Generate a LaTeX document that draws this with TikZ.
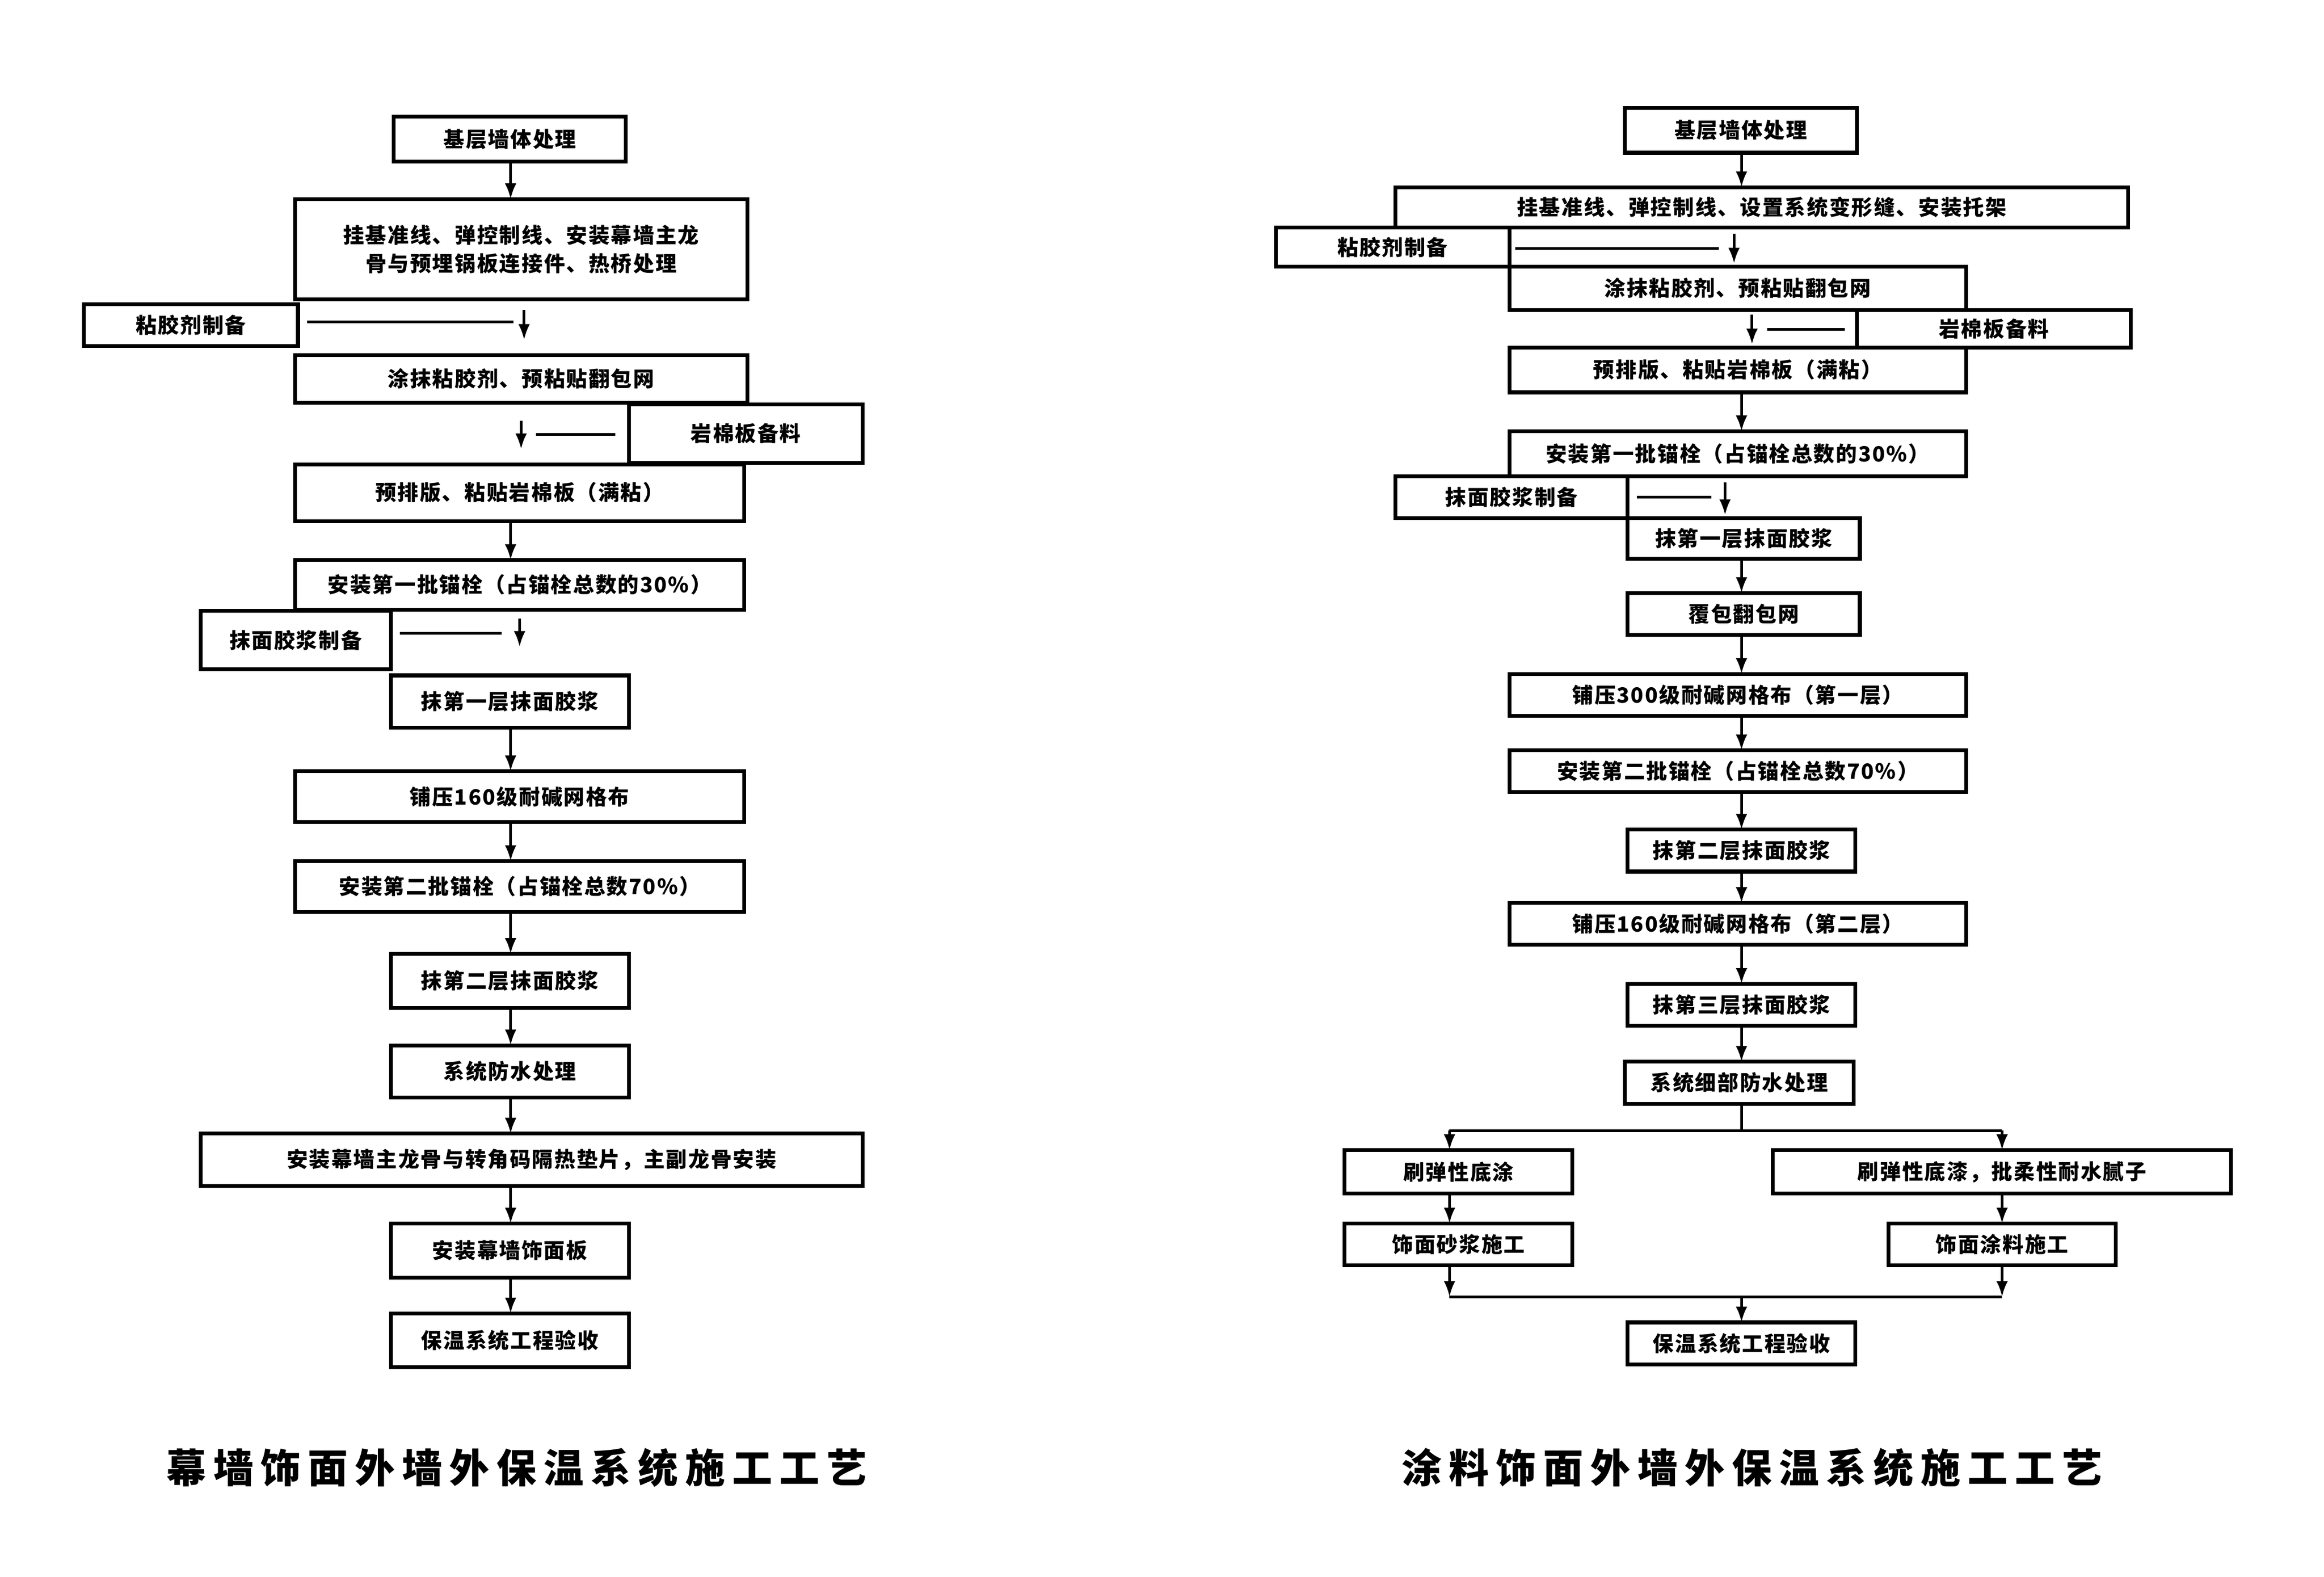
\documentclass[tikz,border=0pt]{standalone}
\usepackage{fontspec}
\setmainfont{Noto Sans CJK SC}
\usetikzlibrary{arrows.meta}
\newcommand\bx[6]{\node[box,minimum width={(#4-#2)*0.05cm},minimum height={(#5-#3)*0.05cm}] (#1) at ({(#2+#4)/2},{-(#3+#5)/2}) {#6};}
\tikzset{
 box/.style={draw,line width=3.6pt,inner sep=0pt,outer sep=0pt,align=center,font=\fontsize{20}{27}\selectfont\addfontfeatures{LetterSpace=6}\bfseries},
 arr/.style={line width=2.6pt,-{Latex[length=15pt,width=11pt]}},
 ln/.style={line width=2.6pt},
 ttl/.style={font=\fontsize{38}{44}\selectfont\addfontfeatures{LetterSpace=18}\bfseries}
}
\begin{document}
\begin{tikzpicture}[x=0.05cm,y=0.05cm]
\useasboundingbox (0,0) rectangle (1552,-1053);
\fill[white] (0,0) rectangle (1552,-1053);
% left chart
\coordinate (cL) at (341,0);
\bx{l1}{263}{78}{418}{108}{基层墙体处理}
\bx{l2}{197}{133}{499}{200}{挂基准线、弹控制线、安装幕墙主龙\\骨与预埋锅板连接件、热桥处理}
\bx{l3}{56}{203}{199}{231}{粘胶剂制备}
\bx{l4}{197}{237}{499}{269}{涂抹粘胶剂、预粘贴翻包网}
\bx{l5}{420}{270}{576}{309}{岩棉板备料}
\bx{l6}{197}{310}{497}{348}{预排版、粘贴岩棉板（满粘）}
\bx{l7}{197}{374}{497}{407}{安装第一批锚栓（占锚栓总数的30\%）}
\bx{l8}{134}{408}{261}{447}{抹面胶浆制备}
\bx{l9}{261}{451}{420}{486}{抹第一层抹面胶浆}
\bx{l10}{197}{515}{497}{549}{铺压160级耐碱网格布}
\bx{l11}{197}{575}{497}{609}{安装第二批锚栓（占锚栓总数70\%）}
\bx{l12}{261}{637}{420}{673}{抹第二层抹面胶浆}
\bx{l13}{261}{698}{420}{733}{系统防水处理}
\bx{l14}{134}{757}{576}{792}{安装幕墙主龙骨与转角码隔热垫片，主副龙骨安装}
\bx{l15}{261}{817}{420}{853}{安装幕墙饰面板}
\bx{l16}{261}{877}{420}{913}{保温系统工程验收}
\draw[arr] (l1.south -| cL) -- (l2.north -| cL);
\coordinate (a1) at (205,-215); \coordinate (a2) at (343,-215);
\draw[ln] (a1) -- (a2);
\coordinate (a3) at (350,-207); \coordinate (a4) at (350,-227);
\draw[arr] (a3) -- (a4);
\coordinate (b1) at (348,-281); \coordinate (b2) at (348,-300);
\draw[arr] (b1) -- (b2);
\coordinate (b3) at (358,-290); \coordinate (b4) at (411,-290);
\draw[ln] (b3) -- (b4);
\draw[arr] (l6.south -| cL) -- (l7.north -| cL);
\coordinate (c1) at (267,-423); \coordinate (c2) at (335,-423);
\draw[ln] (c1) -- (c2);
\coordinate (c3) at (347,-413); \coordinate (c4) at (347,-432);
\draw[arr] (c3) -- (c4);
\draw[arr] (l9.south -| cL) -- (l10.north -| cL);
\draw[arr] (l10.south -| cL) -- (l11.north -| cL);
\draw[arr] (l11.south -| cL) -- (l12.north -| cL);
\draw[arr] (l12.south -| cL) -- (l13.north -| cL);
\draw[arr] (l13.south -| cL) -- (l14.north -| cL);
\draw[arr] (l14.south -| cL) -- (l15.north -| cL);
\draw[arr] (l15.south -| cL) -- (l16.north -| cL);
\node[ttl] (tL) at (345,-980) {幕墙饰面外墙外保温系统施工工艺};
% right chart
\coordinate (cR) at (1163,0);
\bx{r1}{1085}{72}{1240}{102}{基层墙体处理}
\bx{r2}{932}{125}{1421}{152}{挂基准线、弹控制线、设置系统变形缝、安装托架}
\bx{r3}{852}{152}{1008}{178}{粘胶剂制备}
\bx{r4}{1008}{178}{1313}{207}{涂抹粘胶剂、预粘贴翻包网}
\bx{r5}{1240}{207}{1423}{232}{岩棉板备料}
\bx{r6}{1008}{232}{1313}{262}{预排版、粘贴岩棉板（满粘）}
\bx{r7}{1008}{288}{1313}{318}{安装第一批锚栓（占锚栓总数的30\%）}
\bx{r8}{932}{318}{1087}{346}{抹面胶浆制备}
\bx{r9}{1087}{346}{1242}{373}{抹第一层抹面胶浆}
\bx{r10}{1087}{396}{1242}{424}{覆包翻包网}
\bx{r11}{1008}{450}{1313}{478}{铺压300级耐碱网格布（第一层）}
\bx{r12}{1008}{501}{1313}{529}{安装第二批锚栓（占锚栓总数70\%）}
\bx{r13}{1087}{554}{1239}{582}{抹第二层抹面胶浆}
\bx{r14}{1008}{603}{1313}{631}{铺压160级耐碱网格布（第二层）}
\bx{r15}{1087}{657}{1239}{685}{抹第三层抹面胶浆}
\bx{r16}{1085}{709}{1238}{737}{系统细部防水处理}
\bx{r17}{898}{768}{1050}{797}{刷弹性底涂}
\bx{r18}{1184}{768}{1490}{797}{刷弹性底漆，批柔性耐水腻子}
\bx{r19}{898}{817}{1050}{845}{饰面砂浆施工}
\bx{r20}{1261}{817}{1413}{845}{饰面涂料施工}
\bx{r21}{1087}{883}{1239}{911}{保温系统工程验收}
\draw[arr] (r1.south -| cR) -- (r2.north -| cR);
\coordinate (d1) at (1012,-166); \coordinate (d2) at (1148,-166);
\draw[ln] (d1) -- (d2);
\coordinate (d3) at (1158,-156); \coordinate (d4) at (1158,-176);
\draw[arr] (d3) -- (d4);
\coordinate (e1) at (1170,-210); \coordinate (e2) at (1170,-230);
\draw[arr] (e1) -- (e2);
\coordinate (e3) at (1180,-220); \coordinate (e4) at (1232,-220);
\draw[ln] (e3) -- (e4);
\draw[arr] (r6.south -| cR) -- (r7.north -| cR);
\coordinate (f1) at (1093,-332); \coordinate (f2) at (1143,-332);
\draw[ln] (f1) -- (f2);
\coordinate (f3) at (1152,-322); \coordinate (f4) at (1152,-344);
\draw[arr] (f3) -- (f4);
\draw[arr] (r9.south -| cR) -- (r10.north -| cR);
\draw[arr] (r10.south -| cR) -- (r11.north -| cR);
\draw[arr] (r11.south -| cR) -- (r12.north -| cR);
\draw[arr] (r12.south -| cR) -- (r13.north -| cR);
\draw[arr] (r13.south -| cR) -- (r14.north -| cR);
\draw[arr] (r14.south -| cR) -- (r15.north -| cR);
\draw[arr] (r15.south -| cR) -- (r16.north -| cR);
\coordinate (sp) at (1163,-755);
\coordinate (xa) at (968,0); \coordinate (xb) at (1337,0);
\draw[ln] (r16.south -| cR) -- (sp);
\draw[ln] (sp -| xa) -- (sp -| xb);
\draw[arr] (sp -| xa) -- (r17.north -| xa);
\draw[arr] (sp -| xb) -- (r18.north -| xb);
\draw[arr] (r17.south -| xa) -- (r19.north -| xa);
\draw[arr] (r18.south -| xb) -- (r20.north -| xb);
\coordinate (jn) at (1163,-866);
\draw[arr] (r19.south -| xa) -- (jn -| xa);
\draw[arr] (r20.south -| xb) -- (jn -| xb);
\draw[ln] (jn -| xa) -- (jn -| xb);
\draw[arr] (jn) -- (r21.north -| cR);
\node[ttl] (tR) at (1170,-980) {涂料饰面外墙外保温系统施工工艺};
\end{tikzpicture}
\end{document}
